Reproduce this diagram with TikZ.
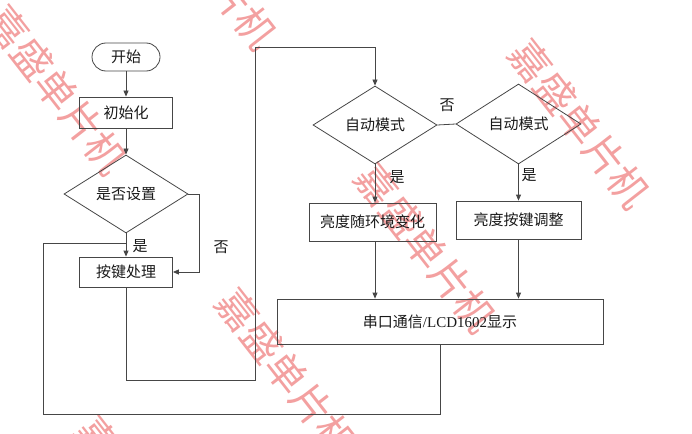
\documentclass[tikz,border=0pt]{standalone}
\usepackage{fontspec}
\setmainfont{Liberation Serif}
\newfontfamily\cjk{Noto Sans CJK SC}
\usetikzlibrary{arrows.meta,shapes.geometric}
\definecolor{wmred}{RGB}{243,160,160}
\definecolor{linegray}{RGB}{70,70,70}
\definecolor{txt}{RGB}{25,25,25}
\begin{document}
\begin{tikzpicture}[x=1pt,y=-1pt,
  every node/.style={text=txt, font=\cjk\fontsize{15}{18}\selectfont, inner sep=0pt},
  wm/.style={text=wmred, font=\cjk\fontsize{40}{44}\selectfont, rotate=-52},
  proc/.style={draw=linegray, line width=0.8pt, rectangle, minimum width=#1, minimum height=31pt},
  startbox/.style={draw=linegray, line width=0.8pt, rounded corners=14pt, minimum width=68pt, minimum height=28pt},
  decision/.style={draw=linegray, line width=0.8pt, diamond, minimum width=124pt, minimum height=78pt},
  conn/.style={draw=linegray, line width=0.8pt},
  arr/.style={conn, -{Triangle[length=6pt,width=5pt]}}]
\useasboundingbox (0,0) rectangle (692,433);
% watermarks
\node[wm] (w1) at (57,90) {嘉盛单片机};
\node[wm] (w2) at (207,-35) {嘉盛单片机};
\node[wm] (w3) at (580,124) {嘉盛单片机};
\node[wm] (w4) at (426,248) {嘉盛单片机};
\node[wm] (w5) at (287,373) {嘉盛单片机};
\node[wm] (w6) at (147,501) {嘉盛单片机};
% nodes
\node[startbox] (start) at (126,57) {开始};
\node[proc=93pt] (init) at (126,112.5) {初始化};
\node[decision] (d1) at (126,194) {是否设置};
\node[proc=93pt, minimum height=30pt] (key) at (126,272) {按键处理};
\node[decision] (d2) at (375,125) {自动模式};
\node[decision, minimum width=125pt, minimum height=80pt] (d3) at (518.5,124) {自动模式};
\node[proc=127pt, minimum height=38pt] (b1) at (372.5,222) {亮度随环境变化};
\node[proc=125pt, minimum height=38pt] (b2) at (518.5,220) {亮度按键调整};
\node[proc=326pt, minimum height=45pt] (ser) at (440,321.5) {串口通信{\rmfamily /LCD1602}显示};
% labels
\node (yes1) at (140,246) {是};
\node (no1) at (221,247) {否};
\node (no2) at (447,105) {否};
\node (yes2) at (397,177) {是};
\node (yes3) at (529,175) {是};
% coordinates
\coordinate (c1) at (255,380);
\coordinate (c2) at (255,47);
\coordinate (c3) at (43,414);
\coordinate (c4) at (43,243);
\coordinate (c5) at (199,194);
% connectors
\draw[arr] (start) -- (init);
\draw[arr] (init) -- (d1);
\draw[arr] (d1) -- (key);
\draw[arr] (d1.east) -- (c5) |- (key.east);
\draw[arr] (key.south) |- (c1) -- (c2) -| (d2.north);
\draw[conn] (d2.east) -- (d3.west);
\draw[arr] (d2.south) -- (d2.south |- b1.north);
\draw[arr] (d3.south) -- (d3.south |- b2.north);
\draw[arr] (d2.south |- b1.south) -- (d2.south |- ser.north);
\draw[arr] (b2.south) -- (b2.south |- ser.north);
\draw[conn] (ser.south) |- (c3) -- (c4) -- (c4 -| key.north);
\end{tikzpicture}
\end{document}
